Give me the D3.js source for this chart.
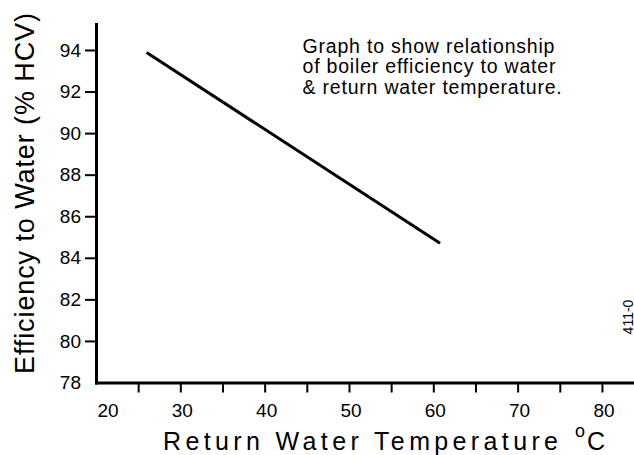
<!DOCTYPE html>
<html lang="en">
<head>
<meta charset="UTF-8">
<title>Boiler efficiency vs return water temperature</title>
<script src="https://d3js.org/d3.v7.min.js"></script>
<style>
    html, body {
        margin: 0;
        padding: 0;
        background: #fff;
    }
    svg text {
        font-family: 'Liberation Sans', Arial, Helvetica, sans-serif;
        fill: #000;
    }
    .axis path, .axis line {
        stroke: #000;
    }
</style>
</head>
<body>
<div id="chart"></div>
<script>

// data
var returnTemp = [26, 60.8];
var efficiency = [93.88, 84.7];

var xTickLabels = [20, 30, 40, 50, 60, 70, 80];
var xTickMarks = [25, 30, 35, 40, 45, 50, 55, 60, 65, 70, 75, 80];
var yTickLabels = [78, 80, 82, 84, 86, 88, 90, 92, 94];

var noteLines = ["Graph to show relationship",
                 "of boiler efficiency to water",
                 "& return water temperature."];

var width = 634,
    height = 455;

var svg = d3.select('#chart')
    .append('svg')
    .attr('width', width)
    .attr('height', height);

var x_scale = d3.scaleLinear()
    .domain([20, 83.8])
    .range([96, 634]);

var y_scale = d3.scaleLinear()
    .domain([78, 95.25])
    .range([382.5, 24]);

// x axis: tick marks (majors + minors) and labels
var x_axis = d3.axisBottom(x_scale)
    .tickValues(xTickMarks)
    .tickSize(10)
    .tickSizeOuter(0)
    .tickFormat('');

var gx = svg.append('g')
    .attr('class', 'x axis')
    .attr('transform', 'translate(0,' + y_scale(78) + ')')
    .call(x_axis);

gx.select('.domain')
    .attr('stroke-width', 3)
    .attr('stroke-linecap', 'square');
gx.selectAll('.tick line').attr('stroke-width', 2);

svg.append('g')
    .selectAll('text')
    .data(xTickLabels)
    .enter()
    .append('text')
    .attr('x', function(d) { return x_scale(d) + (d == 20 ? 12 : 2); })
    .attr('y', 417)
    .attr('text-anchor', 'middle')
    .style('font-size', '19px')
    .text(function(d) { return d; });

// y axis
var y_axis = d3.axisLeft(y_scale)
    .tickValues(yTickLabels)
    .tickSize(11)
    .tickPadding(4)
    .tickSizeOuter(0);

var gy = svg.append('g')
    .attr('class', 'y axis')
    .attr('transform', 'translate(' + x_scale(20) + ',0)')
    .call(y_axis);

gy.select('.domain')
    .attr('stroke-width', 3)
    .attr('stroke-linecap', 'square');
gy.selectAll('.tick line')
    .attr('stroke-width', 2)
    .attr('display', function(d) { return d == 78 ? 'none' : null; });
gy.selectAll('.tick text')
    .style('font-size', '19px')
    .attr('fill', '#000');

// the efficiency line
var line = d3.line()
    .x(function(d) { return x_scale(d[0]); })
    .y(function(d) { return y_scale(d[1]); });

svg.append('path')
    .datum(d3.zip(returnTemp, efficiency))
    .attr('d', line)
    .attr('fill', 'none')
    .attr('stroke', '#000')
    .attr('stroke-width', 3);

// axis titles
var xt = svg.append('text')
    .attr('y', 450)
    .style('font-size', '25px');
xt.append('tspan')
    .attr('x', 163)
    .attr('textLength', 395)
    .attr('lengthAdjust', 'spacing')
    .text('Return Water Temperature');
xt.append('tspan')
    .attr('x', 575)
    .attr('y', 437)
    .style('font-size', '18px')
    .text('o');
xt.append('tspan')
    .attr('x', 587)
    .attr('y', 450)
    .text('C');

svg.append('text')
    .attr('transform', 'translate(33.5,374) rotate(-90)')
    .attr('textLength', 361)
    .attr('lengthAdjust', 'spacing')
    .style('font-size', '27px')
    .text('Efficiency to Water (% HCV)');

// note in the top right
svg.append('g')
    .selectAll('text')
    .data(noteLines)
    .enter()
    .append('text')
    .attr('x', 302.5)
    .attr('y', function(d, i) { return 52.5 + i * 20.5; })
    .style('font-size', '19.5px')
    .style('letter-spacing', '0.8px')
    .text(function(d) { return d; });

// drawing reference number
svg.append('text')
    .attr('transform', 'translate(632.5,317) rotate(-90)')
    .attr('text-anchor', 'middle')
    .style('font-size', '14px')
    .text('411-0');

</script>
</body>
</html>
